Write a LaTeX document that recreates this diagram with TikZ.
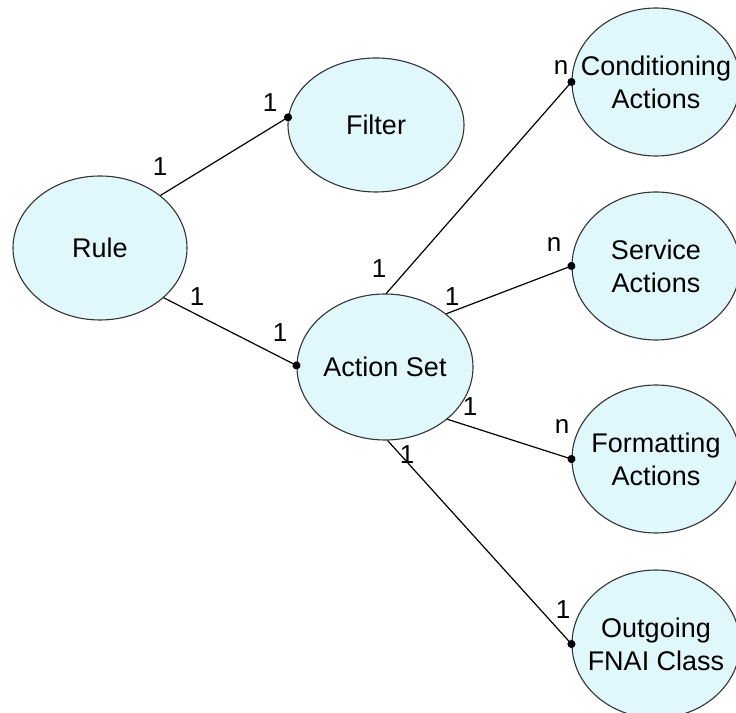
\documentclass[tikz,border=0pt]{standalone}
\usepackage{fontspec}
\setmainfont{Liberation Sans}
\usetikzlibrary{positioning,shapes.geometric,arrows.meta}
\definecolor{entityfill}{RGB}{224,248,252}

\begin{document}
\begin{tikzpicture}[x=1pt,y=1pt,
		entity/.style={ellipse, draw=black!80, fill=entityfill, line width=1.1pt,
			minimum width=174pt, minimum height=144pt, inner xsep=-20pt, inner ysep=0pt,
			align=center, font=\fontsize{27}{33}\selectfont},
		action/.style={entity, minimum width=168pt, minimum height=148pt},
		link/.style={line width=1.2pt, -{Circle[length=8pt]}, shorten >=-4pt},
		card/.style={inner sep=0pt, font=\fontsize{26}{30}\selectfont}]

		\useasboundingbox (0,0) rectangle (736,712);
		\clip (0,0) rectangle (736,712);

		\node [entity] (rule) at (100,464) {Rule};
		\node [entity, minimum width=176pt, minimum height=134pt, on grid, above right=123pt and 276pt of rule] (filter) {Filter};
		\node [entity, minimum width=176pt, minimum height=146pt, on grid, below right=119pt and 285pt of rule] (actset) {Action Set};

		\node [action, on grid, above right=285pt and 271pt of actset] (cond) {Conditioning\\Actions};
		\node [action, on grid, above right=101pt and 271pt of actset] (service) {Service\\Actions};
		\node [action, on grid, below right=92pt and 271pt of actset] (format) {Formatting\\Actions};
		\node [action, on grid, below right=277pt and 271pt of actset] (outgoing) {Outgoing\\FNAI Class};

		\draw [link] (rule.41) -- (filter.175);
		\draw [link] (rule.-38) -- (actset.179);
		\draw [link] (actset.89) -- (cond.west);
		\draw [link] (actset.41) -- (service.west);
		\draw [link] (actset.-40) -- (format.west);
		\draw [link] (actset.-88) -- (outgoing.west);

		% cardinalities
		\node [card] (rf1) at (160,545) {1};
		\node [card] (rf2) at (270,609) {1};
		\node [card] (ra1) at (197,415) {1};
		\node [card] (ra2) at (280,379) {1};
		\node [card] (ac1) at (379,443) {1};
		\node [card] (ac2) at (561,644) {n};
		\node [card] (as1) at (452,415) {1};
		\node [card] (as2) at (554,467) {n};
		\node [card] (af1) at (470,305) {1};
		\node [card] (af2) at (562,285) {n};
		\node [card] (ao1) at (407,257) {1};
		\node [card] (ao2) at (563,102) {1};

\end{tikzpicture}
\end{document}
